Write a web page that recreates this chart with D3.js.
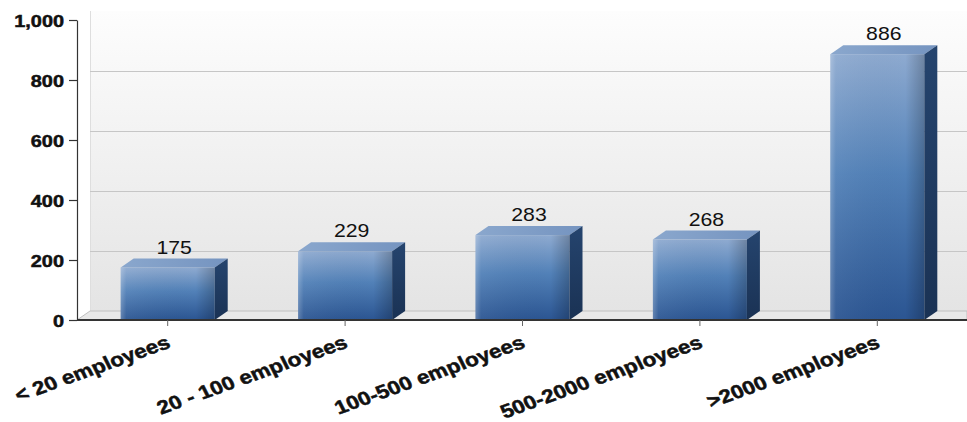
<!DOCTYPE html>
<html>
<head>
<meta charset="utf-8">
<script src="https://cdn.jsdelivr.net/npm/d3@7"></script>
<style>
  html, body { margin: 0; padding: 0; background: #fff; }
  svg { display: block; font-family: "Liberation Sans", Arial, sans-serif; }
</style>
</head>
<body>
<svg id="chart" width="967" height="422"></svg>
<script>
// Companies by size
const categories = ["< 20 employees", "20 - 100 employees", "100-500 employees", "500-2000 employees", ">2000 employees"];
const values = [175, 229, 283, 268, 886];
const yTicks = [0, 200, 400, 600, 800, 1000];

const plotLeft = 77, plotRight = 967, plotTop = 20, plotBottom = 320;
const depthX = 13, depthY = 9;   // 3D depth offset
const stretch = 1.18;            // horizontal text stretch

const svg = d3.select("#chart");
const defs = svg.append("defs");

const x = d3.scaleBand().domain(categories).range([79, 966]).paddingInner(0.47).paddingOuter(0.235);
const y = d3.scaleLinear().domain([0, 1000]).range([plotBottom, plotTop]);

// gradients
const wallGrad = defs.append("linearGradient").attr("id", "wall").attr("x1", 0).attr("y1", 0).attr("x2", 0).attr("y2", 1);
wallGrad.append("stop").attr("offset", "0%").attr("stop-color", "#fdfdfd");
wallGrad.append("stop").attr("offset", "100%").attr("stop-color", "#e4e4e4");

const frontGrad = defs.append("linearGradient").attr("id", "front").attr("x1", 0).attr("y1", 0).attr("x2", 0).attr("y2", 1);
frontGrad.append("stop").attr("offset", "0%").attr("stop-color", "#8eaad0");
frontGrad.append("stop").attr("offset", "45%").attr("stop-color", "#5281b8");
frontGrad.append("stop").attr("offset", "100%").attr("stop-color", "#2b5592");

const shadeGrad = defs.append("linearGradient").attr("id", "shade").attr("x1", 0).attr("y1", 0).attr("x2", 1).attr("y2", 0);
shadeGrad.append("stop").attr("offset", "0%").attr("stop-color", "#ffffff").attr("stop-opacity", 0.25);
shadeGrad.append("stop").attr("offset", "6%").attr("stop-color", "#ffffff").attr("stop-opacity", 0.05);
shadeGrad.append("stop").attr("offset", "80%").attr("stop-color", "#000000").attr("stop-opacity", 0);
shadeGrad.append("stop").attr("offset", "100%").attr("stop-color", "#000000").attr("stop-opacity", 0.22);

const topGrad = defs.append("linearGradient").attr("id", "topface").attr("x1", 0).attr("y1", 0).attr("x2", 1).attr("y2", 0);
topGrad.append("stop").attr("offset", "0%").attr("stop-color", "#8aa7cd");
topGrad.append("stop").attr("offset", "100%").attr("stop-color", "#7594c0");

const sideGrad = defs.append("linearGradient").attr("id", "side").attr("x1", 0).attr("y1", 0).attr("x2", 0).attr("y2", 1);
sideGrad.append("stop").attr("offset", "0%").attr("stop-color", "#25446e");
sideGrad.append("stop").attr("offset", "100%").attr("stop-color", "#1a3254");

// back wall
svg.append("rect")
  .attr("x", plotLeft + depthX).attr("y", y(1000) - depthY)
  .attr("width", plotRight - plotLeft - depthX).attr("height", y(0) - y(1000))
  .attr("fill", "url(#wall)");
svg.append("line")
  .attr("x1", plotLeft + depthX + 0.5).attr("x2", plotLeft + depthX + 0.5)
  .attr("y1", y(1000) - depthY).attr("y2", y(0) - depthY)
  .attr("stroke", "#dedede");

// gridlines on the wall
svg.append("g").selectAll("line")
  .data(yTicks.filter(d => d > 0 && d < 1000))
  .join("line")
  .attr("x1", plotLeft + depthX).attr("x2", plotRight)
  .attr("y1", d => y(d) - depthY + 0.5).attr("y2", d => y(d) - depthY + 0.5)
  .attr("stroke", "#c6c6c6").attr("stroke-width", 1.2);

// floor
svg.append("polygon")
  .attr("points", [[plotLeft, y(0)], [plotLeft + depthX, y(0) - depthY], [plotRight, y(0) - depthY], [plotRight, y(0)]].map(p => p.join(",")).join(" "))
  .attr("fill", "#e8e8e8").attr("stroke", "#c0c0c0").attr("stroke-width", 1);

// bars
const bars = svg.append("g").selectAll("g").data(values).join("g");
bars.each(function (v, i) {
  const g = d3.select(this);
  const x0 = x(categories[i]), x1 = x0 + x.bandwidth();
  const yv = y(v), y0 = y(0);
  g.append("rect").attr("x", x0).attr("y", yv).attr("width", x1 - x0).attr("height", y0 - yv).attr("fill", "url(#front)");
  g.append("rect").attr("x", x0).attr("y", yv).attr("width", x1 - x0).attr("height", y0 - yv).attr("fill", "url(#shade)");
  g.append("polygon")
    .attr("points", [[x0, yv], [x0 + depthX, yv - depthY], [x1 + depthX, yv - depthY], [x1, yv]].map(p => p.join(",")).join(" "))
    .attr("fill", "url(#topface)");
  g.append("polygon")
    .attr("points", [[x1, yv], [x1 + depthX, yv - depthY], [x1 + depthX, y0 - depthY], [x1, y0]].map(p => p.join(",")).join(" "))
    .attr("fill", "url(#side)");
  // value label
  g.append("text")
    .attr("transform", `translate(${(x0 + x1) / 2 + depthX / 2},${yv - depthY - 5}) scale(${stretch},1)`)
    .attr("text-anchor", "middle")
    .attr("font-size", 18)
    .attr("fill", "#111")
    .text(v);
});

// y axis
const yAxis = svg.append("g").attr("transform", `translate(${plotLeft},0)`)
  .call(d3.axisLeft(y).tickValues(yTicks).tickSize(8).tickSizeOuter(0).tickFormat(d3.format(",")));
yAxis.select(".domain").attr("stroke", "#333").attr("stroke-width", 1.2);
yAxis.selectAll(".tick line").attr("stroke", "#333").attr("stroke-width", 1.2);
yAxis.selectAll(".tick text")
  .attr("x", null).attr("dy", null)
  .attr("transform", `translate(-13,6) scale(1.17,1)`)
  .attr("text-anchor", "end")
  .attr("font-size", 17).attr("font-weight", "bold").attr("fill", "#111")
  .attr("stroke", "#111").attr("stroke-width", 0.5)
  .attr("font-family", "'Liberation Sans', Arial, sans-serif");

// x axis
const xAxis = svg.append("g").attr("transform", `translate(0,${plotBottom})`)
  .call(d3.axisBottom(x).tickSize(6).tickSizeOuter(0));
xAxis.select(".domain").attr("d", `M${plotLeft},0H${plotRight}`).attr("stroke", "#333").attr("stroke-width", 2);
xAxis.selectAll(".tick line").attr("stroke", "#666").attr("stroke-width", 1);
xAxis.selectAll(".tick text")
  .attr("y", null).attr("dy", null)
  .attr("transform", `translate(4,27) scale(${stretch},1) rotate(-23)`)
  .attr("text-anchor", "end")
  .attr("font-size", 19).attr("font-weight", "bold").attr("fill", "#111")
  .attr("stroke", "#111").attr("stroke-width", 0.5)
  .attr("font-family", "'Liberation Sans', Arial, sans-serif");
</script>
</body>
</html>
